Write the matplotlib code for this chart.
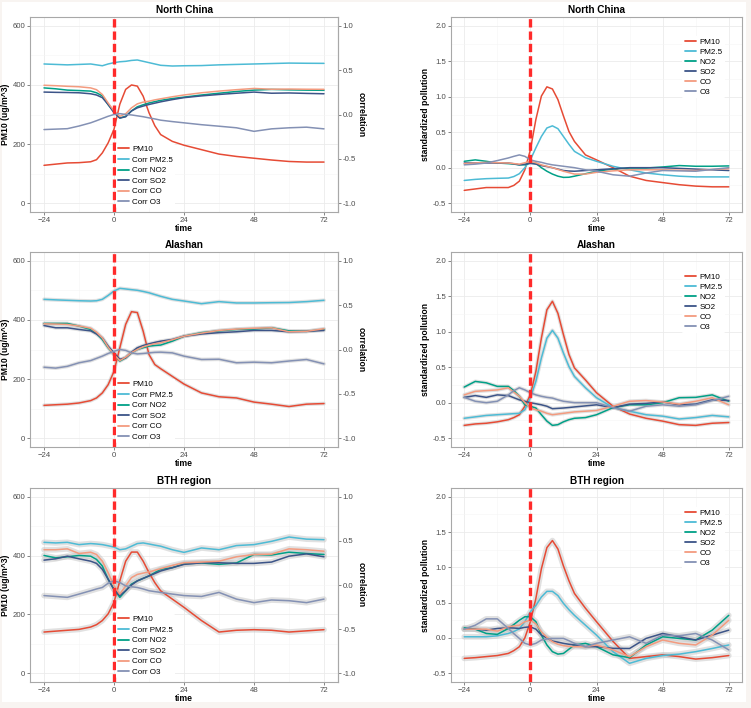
import matplotlib
matplotlib.use("Agg")
import matplotlib.pyplot as plt
from matplotlib.patches import Rectangle

plt.rcParams['font.family'] = ['Liberation Sans', 'DejaVu Sans']
plt.rcParams['lines.solid_joinstyle'] = 'round'
plt.rcParams['lines.solid_capstyle'] = 'round'

# ---------------- data ----------------
hours = [-24, -20, -16, -12, -8, -6, -4, -2, 0, 2, 4, 6, 8, 10, 12, 14, 16, 20, 24, 30, 36, 42, 48, 54, 60, 66, 72]

regions = ["North China", "Alashan", "BTH region"]
left_labels = ["PM10", "Corr PM2.5", "Corr NO2", "Corr SO2", "Corr CO", "Corr O3"]
right_labels = ["PM10", "PM2.5", "NO2", "SO2", "CO", "O3"]
colors = ["#E64B35", "#4DBBD5", "#00A087", "#3C5488", "#F39B7F", "#8491B4"]

# North China - PM10 concentration (ug/m^3) and correlations
nc_pm10 = [128, 132, 136, 137, 140, 147, 170, 204, 250, 335, 385, 400, 396, 362, 306, 262, 232, 209, 196, 181, 166, 158, 152, 146, 141, 139, 139]
nc_corr_pm25 = [0.57, 0.565, 0.56, 0.565, 0.57, 0.56, 0.55, 0.57, 0.585, 0.595, 0.6, 0.61, 0.615, 0.6, 0.585, 0.57, 0.555, 0.547, 0.55, 0.552, 0.56, 0.565, 0.57, 0.575, 0.58, 0.578, 0.577]
nc_corr_no2 = [0.30, 0.29, 0.275, 0.27, 0.264, 0.245, 0.21, 0.11, 0.03, -0.04, -0.02, 0.04, 0.087, 0.11, 0.13, 0.145, 0.16, 0.18, 0.196, 0.22, 0.24, 0.26, 0.275, 0.283, 0.278, 0.275, 0.273]
nc_corr_so2 = [0.253, 0.25, 0.248, 0.245, 0.234, 0.22, 0.19, 0.113, 0.02, -0.04, -0.026, 0.04, 0.075, 0.095, 0.113, 0.128, 0.143, 0.168, 0.19, 0.21, 0.226, 0.24, 0.253, 0.24, 0.243, 0.238, 0.234]
nc_corr_co = [0.33, 0.325, 0.318, 0.313, 0.30, 0.28, 0.226, 0.13, 0.04, -0.02, 0.008, 0.075, 0.12, 0.14, 0.15, 0.165, 0.177, 0.2, 0.22, 0.245, 0.264, 0.28, 0.294, 0.285, 0.287, 0.285, 0.284]
nc_corr_o3 = [-0.17, -0.165, -0.16, -0.13, -0.094, -0.07, -0.045, -0.02, 0.0, 0.01, 0.0, -0.005, -0.015, -0.025, -0.038, -0.05, -0.064, -0.08, -0.094, -0.115, -0.132, -0.15, -0.19, -0.162, -0.15, -0.143, -0.162]

# North China - standardized pollution
nc_std_pm10 = [-0.32, -0.30, -0.28, -0.28, -0.28, -0.25, -0.19, -0.03, 0.25, 0.68, 1.01, 1.14, 1.11, 0.96, 0.73, 0.51, 0.37, 0.18, 0.11, 0.0, -0.12, -0.18, -0.21, -0.24, -0.26, -0.27, -0.27]
nc_std_pm25 = [-0.18, -0.165, -0.155, -0.15, -0.146, -0.125, -0.085, 0.0, 0.11, 0.28, 0.44, 0.56, 0.59, 0.55, 0.44, 0.33, 0.23, 0.14, 0.09, 0.02, -0.03, -0.075, -0.1, -0.12, -0.13, -0.13, -0.13]
nc_std_no2 = [0.09, 0.11, 0.09, 0.066, 0.057, 0.05, 0.04, 0.04, 0.066, 0.06, 0.0, -0.05, -0.09, -0.12, -0.137, -0.135, -0.12, -0.085, -0.05, -0.02, -0.005, -0.005, 0.01, 0.03, 0.02, 0.02, 0.025]
nc_std_so2 = [0.066, 0.066, 0.066, 0.066, 0.066, 0.055, 0.04, 0.05, 0.06, 0.05, 0.03, 0.015, 0.0, -0.02, -0.04, -0.047, -0.05, -0.04, -0.03, -0.015, 0.0, 0.0, 0.0, -0.01, -0.02, -0.03, -0.04]
nc_std_co = [0.057, 0.065, 0.075, 0.07, 0.066, 0.058, 0.05, 0.07, 0.09, 0.07, 0.04, 0.02, 0.0, -0.025, -0.05, -0.07, -0.09, -0.09, -0.066, -0.045, -0.03, -0.03, -0.03, -0.035, -0.04, -0.025, -0.015]
nc_std_o3 = [0.04, 0.05, 0.066, 0.1, 0.137, 0.16, 0.18, 0.16, 0.11, 0.09, 0.075, 0.055, 0.04, 0.03, 0.02, 0.01, 0.0, -0.03, -0.05, -0.1, -0.12, -0.075, -0.04, -0.045, -0.05, -0.025, 0.0]

# Alashan - PM10 concentration and correlations
al_pm10 = [111, 113, 115, 119, 127, 136, 153, 181, 226, 306, 385, 428, 425, 362, 283, 249, 235, 209, 183, 153, 140, 136, 122, 115, 107, 115, 117]
al_corr_pm25 = [0.566, 0.56, 0.555, 0.55, 0.547, 0.55, 0.566, 0.61, 0.66, 0.69, 0.683, 0.675, 0.668, 0.655, 0.64, 0.62, 0.6, 0.566, 0.547, 0.517, 0.54, 0.525, 0.525, 0.528, 0.53, 0.54, 0.555]
al_corr_no2 = [0.294, 0.294, 0.294, 0.264, 0.226, 0.18, 0.113, 0.02, -0.057, -0.13, -0.094, -0.038, 0.0, 0.02, 0.038, 0.045, 0.05, 0.094, 0.15, 0.19, 0.21, 0.226, 0.23, 0.245, 0.21, 0.205, 0.226]
al_corr_so2 = [0.27, 0.245, 0.245, 0.226, 0.21, 0.175, 0.13, 0.038, -0.038, -0.11, -0.094, -0.03, 0.02, 0.045, 0.064, 0.08, 0.094, 0.113, 0.15, 0.175, 0.19, 0.2, 0.215, 0.215, 0.2, 0.205, 0.215]
al_corr_co = [0.29, 0.287, 0.283, 0.265, 0.24, 0.195, 0.13, 0.026, -0.057, -0.125, -0.087, -0.035, 0.0, 0.03, 0.05, 0.065, 0.075, 0.11, 0.15, 0.185, 0.215, 0.23, 0.24, 0.245, 0.2, 0.205, 0.234]
al_corr_o3 = [-0.2, -0.21, -0.19, -0.15, -0.125, -0.1, -0.075, -0.045, -0.02, 0.0, -0.01, -0.038, -0.05, -0.045, -0.038, -0.032, -0.03, -0.038, -0.075, -0.113, -0.11, -0.15, -0.143, -0.15, -0.13, -0.113, -0.162]

# Alashan - standardized pollution
al_std_pm10 = [-0.32, -0.30, -0.29, -0.27, -0.24, -0.21, -0.17, -0.05, 0.11, 0.44, 0.91, 1.31, 1.43, 1.26, 0.96, 0.68, 0.49, 0.32, 0.14, -0.05, -0.16, -0.22, -0.26, -0.31, -0.32, -0.29, -0.28]
al_std_pm25 = [-0.22, -0.2, -0.18, -0.17, -0.16, -0.155, -0.15, -0.1, 0.07, 0.3, 0.63, 0.91, 1.02, 0.91, 0.7, 0.51, 0.37, 0.21, 0.07, -0.07, -0.12, -0.17, -0.19, -0.23, -0.21, -0.18, -0.2]
al_std_no2 = [0.22, 0.3, 0.28, 0.23, 0.23, 0.17, 0.09, -0.03, -0.05, -0.075, -0.17, -0.26, -0.32, -0.31, -0.27, -0.24, -0.22, -0.21, -0.17, -0.07, -0.03, -0.03, 0.0, 0.07, 0.075, 0.11, 0.02]
al_std_so2 = [0.075, 0.1, 0.075, 0.11, 0.1, 0.07, 0.04, 0.02, 0.0, -0.015, -0.03, -0.05, -0.085, -0.08, -0.075, -0.068, -0.06, -0.045, -0.03, -0.07, -0.02, -0.01, 0.01, -0.03, -0.02, 0.04, 0.03]
al_std_co = [0.11, 0.16, 0.17, 0.18, 0.21, 0.15, 0.09, 0.0, -0.075, -0.1, -0.12, -0.15, -0.17, -0.16, -0.15, -0.14, -0.13, -0.12, -0.11, -0.05, 0.02, 0.03, 0.01, -0.02, 0.02, 0.07, -0.03]
al_std_o3 = [0.075, 0.02, 0.0, 0.02, 0.11, 0.17, 0.21, 0.18, 0.14, 0.11, 0.09, 0.075, 0.065, 0.04, 0.02, 0.01, 0.0, 0.0, 0.0, -0.07, -0.12, -0.05, -0.03, -0.05, -0.03, 0.03, 0.09]

# BTH region - PM10 concentration and correlations
bth_pm10 = [140, 143, 146, 149, 157, 165, 179, 202, 241, 314, 381, 412, 412, 381, 342, 308, 280, 252, 224, 179, 140, 146, 148, 146, 140, 144, 148]
bth_corr_pm25 = [0.484, 0.477, 0.484, 0.458, 0.47, 0.465, 0.458, 0.445, 0.43, 0.40, 0.41, 0.44, 0.47, 0.477, 0.465, 0.452, 0.44, 0.40, 0.37, 0.42, 0.40, 0.447, 0.458, 0.495, 0.544, 0.52, 0.514]
bth_corr_no2 = [0.335, 0.308, 0.32, 0.335, 0.327, 0.29, 0.215, 0.065, -0.047, -0.14, -0.065, 0.01, 0.047, 0.075, 0.103, 0.14, 0.178, 0.196, 0.24, 0.25, 0.234, 0.25, 0.346, 0.34, 0.372, 0.357, 0.346]
bth_corr_so2 = [0.282, 0.297, 0.327, 0.297, 0.27, 0.245, 0.178, 0.065, -0.054, -0.12, -0.065, 0.0, 0.047, 0.075, 0.103, 0.13, 0.159, 0.196, 0.234, 0.252, 0.252, 0.245, 0.245, 0.26, 0.327, 0.353, 0.32]
bth_corr_co = [0.40, 0.40, 0.41, 0.357, 0.372, 0.346, 0.27, 0.14, -0.01, -0.103, -0.01, 0.084, 0.12, 0.135, 0.148, 0.167, 0.185, 0.222, 0.252, 0.26, 0.27, 0.32, 0.346, 0.35, 0.41, 0.40, 0.383]
bth_corr_o3 = [-0.12, -0.13, -0.14, -0.103, -0.065, -0.045, -0.028, 0.02, 0.047, 0.028, -0.01, -0.02, -0.028, -0.045, -0.065, -0.075, -0.084, -0.103, -0.12, -0.13, -0.084, -0.16, -0.2, -0.17, -0.178, -0.2, -0.16]

# BTH region - standardized pollution
bth_std_pm10 = [-0.29, -0.28, -0.265, -0.25, -0.22, -0.18, -0.125, 0.0, 0.23, 0.56, 0.98, 1.28, 1.38, 1.26, 1.02, 0.81, 0.63, 0.42, 0.23, -0.05, -0.29, -0.265, -0.24, -0.265, -0.3, -0.28, -0.25]
bth_std_pm25 = [0.016, 0.016, 0.016, 0.03, 0.063, 0.09, 0.13, 0.23, 0.37, 0.46, 0.58, 0.66, 0.66, 0.6, 0.49, 0.4, 0.32, 0.18, 0.04, -0.195, -0.36, -0.29, -0.25, -0.23, -0.195, -0.15, -0.1]
bth_std_no2 = [0.143, 0.124, 0.063, 0.05, 0.134, 0.19, 0.25, 0.3, 0.3, 0.23, 0.04, -0.1, -0.195, -0.23, -0.22, -0.16, -0.1, -0.077, -0.124, -0.24, -0.28, -0.1, 0.016, -0.007, -0.03, 0.11, 0.32]
bth_std_so2 = [0.124, 0.124, 0.11, 0.134, 0.143, 0.14, 0.134, 0.15, 0.157, 0.124, 0.04, 0.0, -0.045, -0.06, -0.077, -0.09, -0.1, -0.124, -0.124, -0.148, -0.15, -0.007, 0.063, 0.016, -0.03, 0.04, 0.11]
bth_std_co = [0.124, 0.124, 0.124, 0.096, 0.157, 0.17, 0.18, 0.23, 0.25, 0.2, 0.087, 0.01, -0.054, -0.09, -0.11, -0.12, -0.124, -0.124, -0.1, -0.17, -0.265, -0.124, -0.03, -0.077, -0.1, 0.04, 0.25]
bth_std_o3 = [0.124, 0.18, 0.27, 0.27, 0.134, 0.06, -0.007, -0.077, -0.1, -0.077, -0.03, -0.015, -0.007, -0.007, -0.007, -0.04, -0.077, -0.124, -0.077, -0.03, 0.016, -0.077, 0.04, 0.03, 0.063, -0.03, -0.17]

pm10_series = [nc_pm10, al_pm10, bth_pm10]
corr_series = [
    [nc_corr_pm25, nc_corr_no2, nc_corr_so2, nc_corr_co, nc_corr_o3],
    [al_corr_pm25, al_corr_no2, al_corr_so2, al_corr_co, al_corr_o3],
    [bth_corr_pm25, bth_corr_no2, bth_corr_so2, bth_corr_co, bth_corr_o3],
]
std_series = [
    [nc_std_pm10, nc_std_pm25, nc_std_no2, nc_std_so2, nc_std_co, nc_std_o3],
    [al_std_pm10, al_std_pm25, al_std_no2, al_std_so2, al_std_co, al_std_o3],
    [bth_std_pm10, bth_std_pm25, bth_std_no2, bth_std_so2, bth_std_co, bth_std_o3],
]
# ribbon (confidence band) visibility per region
band_width = [0.0, 1.6, 3.0]

# ---------------- figure ----------------
W, H = 751, 708
fig = plt.figure(figsize=(W / 100, H / 100), dpi=100, facecolor="#f8f4f1")
fig.patches.append(Rectangle((2 / W, 1 - 702 / H), 744 / W, 700 / H,
                             transform=fig.transFigure, facecolor="white",
                             edgecolor="none", zorder=-5))

rows_px = [(17, 212), (252, 447), (488, 682)]
left_x = (30, 338)
right_x = (451, 742)

TICK_FS = 5.6
LEG_FS = 5.8
LAB_FS = 6.2
TITLE_FS = 7.2
GREY = "#4d4d4d"
BAND = "#c4c4c4"


def corr_to_pm(c):
    return (c + 1) * 300


def style(ax, ylim, yticks, yminor, yfmt):
    ax.set_xlim(-28.8, 76.8)
    ax.set_xticks([-24, 0, 24, 48, 72])
    ax.set_xticks([-12, 12, 36, 60], minor=True)
    ax.set_ylim(*ylim)
    ax.set_yticks(yticks)
    ax.set_yticklabels([yfmt(v) for v in yticks])
    ax.set_yticks(yminor, minor=True)
    ax.grid(which="major", color="#ebebeb", lw=0.6)
    ax.grid(which="minor", color="#f5f5f5", lw=0.4)
    ax.set_axisbelow(True)
    for s in ax.spines.values():
        s.set_color("#a8a8a8")
        s.set_linewidth(0.8)
    ax.tick_params(which="major", length=2.2, width=0.5, color="#555555",
                   labelsize=TICK_FS, labelcolor=GREY, pad=1.2)
    ax.tick_params(which="minor", length=0)
    ax.set_xlabel("time", fontsize=LAB_FS, fontweight="bold", labelpad=0)


for r, region in enumerate(regions):
    top, bot = rows_px[r]
    bw = band_width[r]
    # ---- left panel ----
    axl = fig.add_axes([left_x[0] / W, 1 - bot / H, (left_x[1] - left_x[0]) / W, (bot - top) / H])
    style(axl, (-30, 630), [0, 200, 400, 600], [100, 300, 500], lambda v: f"{v:d}")
    handles = []
    if bw > 0:
        axl.plot(hours, pm10_series[r], color=BAND, lw=1.1 + bw, alpha=0.5, zorder=2)
    h, = axl.plot(hours, pm10_series[r], color=colors[0], lw=1.1, zorder=3,
                  label=left_labels[0])
    handles.append(h)
    for k, vals in enumerate(corr_series[r]):
        yv = [corr_to_pm(v) for v in vals]
        if bw > 0:
            axl.plot(hours, yv, color=BAND, lw=1.1 + bw, alpha=0.5, zorder=2)
        h, = axl.plot(hours, yv, color=colors[k + 1], lw=1.1, zorder=3,
                      label=left_labels[k + 1])
        handles.append(h)
    axl.axvline(0, color="#ff2a2a", lw=2.4, linestyle=(0, (2.5, 1.2)),
                solid_capstyle="butt", dash_capstyle="butt", zorder=4)
    axl.set_ylabel("PM10 (ug/m^3)", fontsize=LAB_FS, fontweight="bold", labelpad=2)
    axl.set_title(region, fontsize=TITLE_FS, fontweight="bold", pad=3)
    sec = axl.secondary_yaxis("right", functions=(lambda y: y / 300 - 1, corr_to_pm))
    sec.set_yticks([-1.0, -0.5, 0.0, 0.5, 1.0])
    sec.set_yticklabels(["-1.0", "-0.5", "0.0", "0.5", "1.0"])
    sec.tick_params(length=2.2, width=0.5, color="#555555", labelsize=TICK_FS,
                    labelcolor=GREY, pad=1.2)
    sec.spines["right"].set_color("#a8a8a8")
    sec.spines["right"].set_linewidth(0.8)
    sec.set_ylabel("correlation", fontsize=LAB_FS, fontweight="bold", rotation=-90,
                   labelpad=7)
    leg = axl.legend(handles=handles, loc="lower left", bbox_to_anchor=(0.265, 0.0),
                     fontsize=LEG_FS, frameon=True, facecolor="white", edgecolor="none",
                     framealpha=1, handlelength=1.35, handletextpad=0.45,
                     labelspacing=0.36, borderpad=0.25)
    leg.get_frame().set_linewidth(0)
    for lh in leg.get_lines():
        lh.set_linewidth(1.3)

    # ---- right panel ----
    axr = fig.add_axes([right_x[0] / W, 1 - bot / H, (right_x[1] - right_x[0]) / W, (bot - top) / H])
    style(axr, (-0.625, 2.125), [-0.5, 0.0, 0.5, 1.0, 1.5, 2.0],
          [-0.25, 0.25, 0.75, 1.25, 1.75], lambda v: f"{v:.1f}")
    rh = []
    for k, vals in enumerate(std_series[r]):
        if bw > 0:
            axr.plot(hours, vals, color=BAND, lw=1.1 + bw, alpha=0.5, zorder=2)
        h, = axr.plot(hours, vals, color=colors[k], lw=1.1, zorder=3, label=right_labels[k])
        rh.append(h)
    axr.axvline(0, color="#ff2a2a", lw=2.4, linestyle=(0, (2.5, 1.2)),
                dash_capstyle="butt", zorder=4)
    axr.set_ylabel("standardized pollution", fontsize=LAB_FS, fontweight="bold", labelpad=2)
    axr.set_title(region, fontsize=TITLE_FS, fontweight="bold", pad=3)
    leg2 = axr.legend(handles=rh, loc="upper right", bbox_to_anchor=(0.955, 0.925),
                      fontsize=LEG_FS, frameon=True, facecolor="white", edgecolor="none",
                      framealpha=1, handlelength=1.35, handletextpad=0.45,
                      labelspacing=0.3, borderpad=0.3)
    leg2.get_frame().set_linewidth(0)
    for lh in leg2.get_lines():
        lh.set_linewidth(1.3)

fig.savefig("out.png", dpi=100, facecolor=fig.get_facecolor())
